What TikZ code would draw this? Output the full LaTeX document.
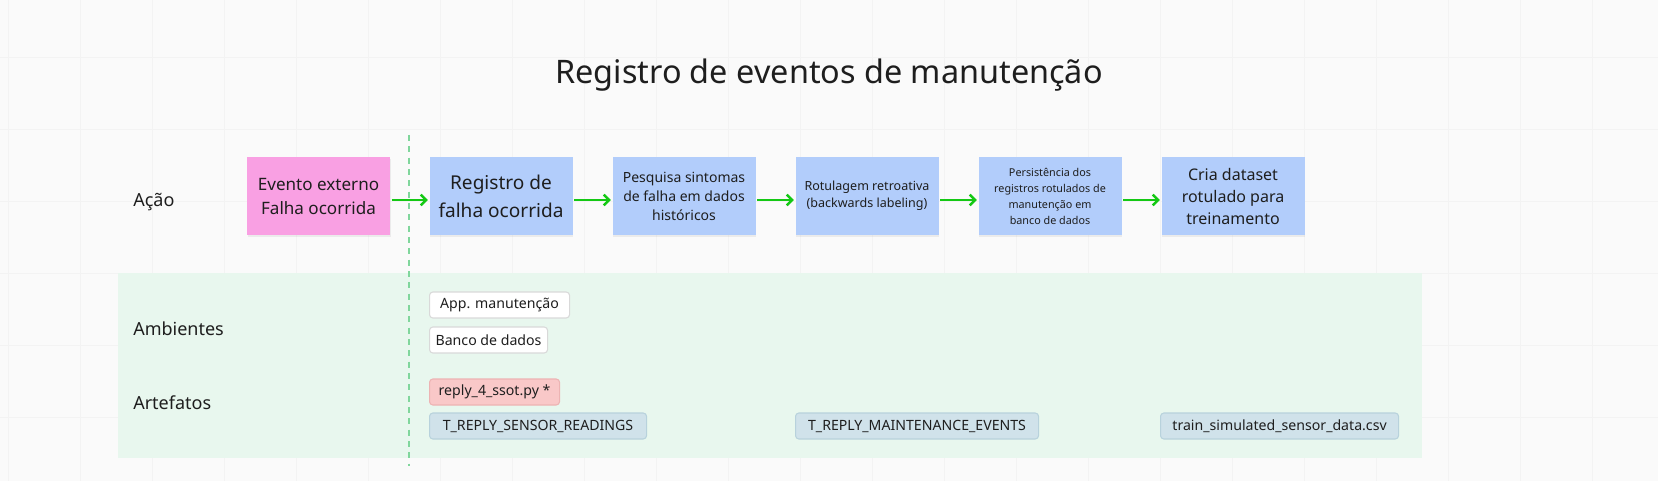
\documentclass[tikz,border=0pt]{standalone}
\usepackage{fontspec}
\setmainfont{Noto Sans}
\usetikzlibrary{arrows.meta,shadows}
\definecolor{bgc}{HTML}{FAFAFA}
\definecolor{gridc}{HTML}{F3F3F3}
\definecolor{pinkc}{HTML}{F9A0E3}
\definecolor{bluec}{HTML}{B2CDFB}
\definecolor{arrowc}{HTML}{14C814}
\definecolor{dashc}{HTML}{80D69C}
\definecolor{bandc}{HTML}{E8F7EE}
\definecolor{txtc}{HTML}{1E1E1E}
\definecolor{redfill}{HTML}{F9C8C8}
\definecolor{redline}{HTML}{EDB3B3}
\definecolor{tabfill}{HTML}{D0E2EA}
\definecolor{tabline}{HTML}{B8D2DC}
\definecolor{whiteline}{HTML}{D9D9D9}
\tikzset{
  actbox/.style={minimum width=107.25pt, minimum height=58.5pt, align=center, inner sep=2pt, text=txtc,
    drop shadow={opacity=0.12, shadow xshift=0.6pt, shadow yshift=-1.2pt}},
  pinkbox/.style={actbox, fill=pinkc},
  bluebox/.style={actbox, fill=bluec},
  flow/.style={draw=arrowc, line width=1.9pt, -{Straight Barb[length=4pt,width=8pt,line width=1.9pt]}, shorten <=1pt, shorten >=1pt},
  rowlabel/.style={anchor=west, inner sep=0pt, text=txtc, font=\fontsize{13.5pt}{16pt}\selectfont},
  tag/.style={anchor=west, rounded corners=2.5pt, line width=0.8pt, minimum height=19.5pt, inner xsep=3pt, text=txtc,
    font=\fontsize{10.6pt}{12pt}\selectfont},
  whitetag/.style={tag, draw=whiteline, fill=white},
  redtag/.style={tag, draw=redline, fill=redfill},
  tabletag/.style={tag, draw=tabline, fill=tabfill},
}
\begin{document}
\begin{tikzpicture}[x=0.75pt,y=-0.75pt]
\useasboundingbox (0,0) rectangle (1658,481);
\fill[bgc] (0,0) rectangle (1658,481);
\foreach \gx in {8,80,152,224,296,368,440,512,584,656,728,800,872,944,1016,1088,1160,1232,1304,1376,1448,1520,1592}
  \draw[gridc, line width=0.6pt] (\gx,0) -- (\gx,481);
\foreach \gy in {57,129,201,273,345,417}
  \draw[gridc, line width=0.6pt] (0,\gy) -- (1658,\gy);

% band
\fill[bandc] (118,273) rectangle (1422,458);

% title
\node[text=txtc, font=\fontsize{24.3pt}{30pt}\selectfont] (title) at (829,75) {Registro de eventos de manutenção};

% row labels
\node[rowlabel] (lacao) at (133,202) {Ação};
\node[rowlabel] (lamb) at (133,329) {Ambientes};
\node[rowlabel] (lart) at (133,403) {Artefatos};

% dashed separator
\coordinate (dtop) at (409,135);
\coordinate (dbot) at (409,466);
\draw[dashc, line width=1.3pt, dash pattern=on 4.5pt off 4pt] (dtop) -- (dbot);

% action boxes
\node[pinkbox, font=\fontsize{12.8pt}{18pt}\selectfont] (b0) at (318.5,196) {Evento externo\\Falha ocorrida};
\node[bluebox, font=\fontsize{14.3pt}{21pt}\selectfont] (b1) at (501,196) {Registro de\\falha ocorrida};
\node[bluebox, font=\fontsize{10.5pt}{14.3pt}\selectfont] (b2) at (684,196) {Pesquisa sintomas\\de falha em dados\\históricos};
\node[bluebox, font=\fontsize{9.4pt}{12.8pt}\selectfont] (b3) at (867,196) {Rotulagem retroativa\\(backwards labeling)};
\node[bluebox, font=\fontsize{8.1pt}{12pt}\selectfont] (b4) at (1050,196) {Persistência dos\\registros rotulados de\\manutenção em\\banco de dados};
\node[bluebox, font=\fontsize{12pt}{16.5pt}\selectfont] (b5) at (1233,196) {Cria dataset\\rotulado para\\treinamento};

\draw[flow] ([yshift=-3pt]b0.east) -- ([yshift=-3pt]b1.west);
\draw[flow] ([yshift=-3pt]b1.east) -- ([yshift=-3pt]b2.west);
\draw[flow] ([yshift=-3pt]b2.east) -- ([yshift=-3pt]b3.west);
\draw[flow] ([yshift=-3pt]b3.east) -- ([yshift=-3pt]b4.west);
\draw[flow] ([yshift=-3pt]b4.east) -- ([yshift=-3pt]b5.west);

% environments
\node[whitetag, minimum width=105pt] (app) at (429,305) {App. manutenção};
\node[whitetag, minimum width=88.5pt] (bd) at (429,340) {Banco de dados};

% artefacts
\node[redtag, minimum width=97.5pt] (py) at (429,392) {reply\_4\_ssot.py *};
\node[tabletag, minimum width=162.75pt] (tsr) at (429,426) {T\_REPLY\_SENSOR\_READINGS};
\node[tabletag, minimum width=182.25pt] (tme) at (795,426) {T\_REPLY\_MAINTENANCE\_EVENTS};
\node[tabletag, minimum width=178.5pt] (csv) at (1160,426) {train\_simulated\_sensor\_data.csv};
\end{tikzpicture}
\end{document}
